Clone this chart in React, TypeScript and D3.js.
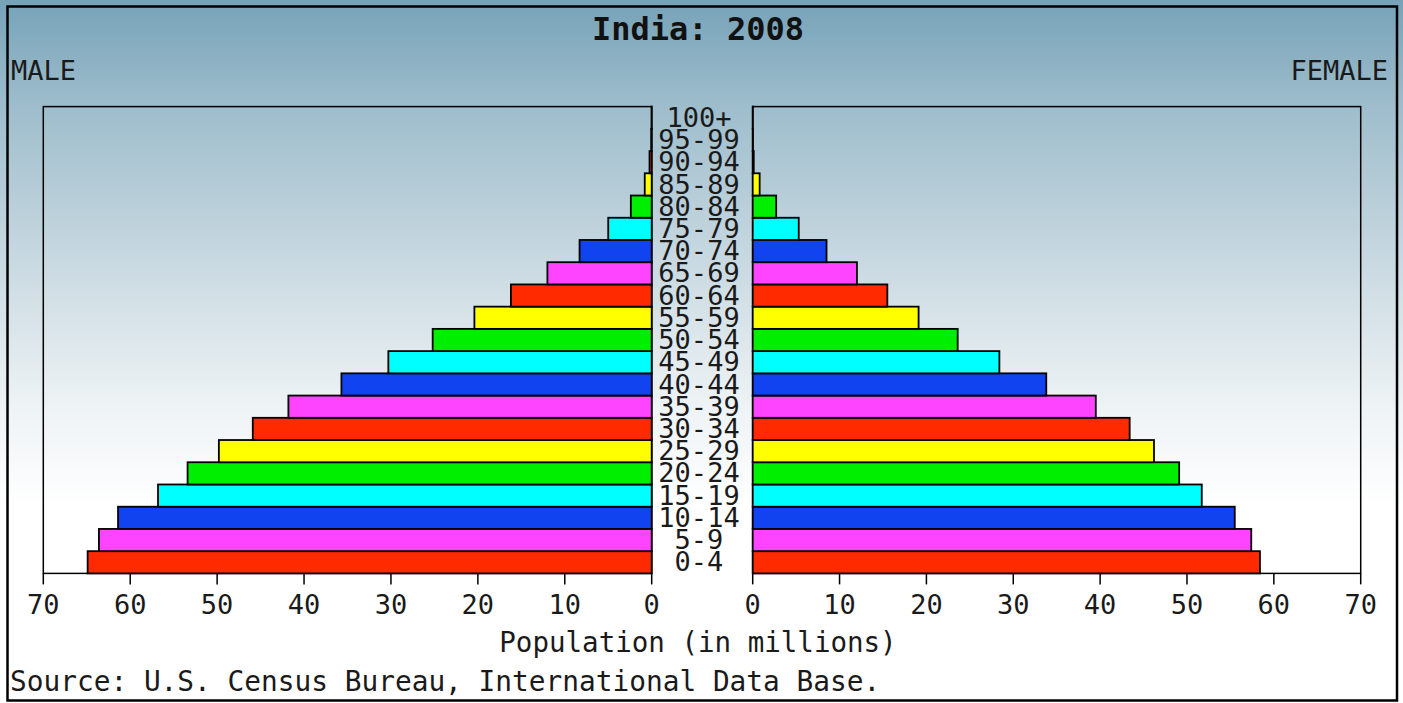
import React from "react";
import * as d3 from "d3";

const ageGroups = ["0-4","5-9","10-14","15-19","20-24","25-29","30-34","35-39","40-44","45-49","50-54","55-59","60-64","65-69","70-74","75-79","80-84","85-89","90-94","95-99","100+"];
const maleValues = [64.9,63.6,61.4,56.8,53.4,49.8,45.9,41.8,35.7,30.3,25.2,20.4,16.2,12.0,8.3,5.0,2.4,0.8,0.25,0.06,0.02];
const femaleValues = [58.4,57.4,55.5,51.7,49.1,46.2,43.4,39.5,33.8,28.4,23.6,19.1,15.5,12.0,8.5,5.3,2.7,0.8,0.12,0.03,0.01];
const barColors = ["#ff2a00","#ff44ff","#1144f0","#00ffff","#00ee00","#ffff00"];
const tickValues = [0,10,20,30,40,50,60,70];
const title = "India: 2008";
const leftLabel = "MALE";
const rightLabel = "FEMALE";
const xAxisTitle = "Population (in millions)";
const sourceText = "Source: U.S. Census Bureau, International Data Base.";

const W = 1403;
const H = 703;
const FONT = "'DejaVu Sans Mono', monospace";

export default function App() {
  const plotTop = 106.6;
  const plotBottom = 573.4;
  const xL = d3.scaleLinear().domain([0, 70]).range([651.7, 43.3]);
  const xR = d3.scaleLinear().domain([0, 70]).range([752.7, 1360.7]);
  const y = d3.scaleBand<string>().domain(ageGroups).range([plotBottom, plotTop]).padding(0);
  const bw = y.bandwidth();

  return (
    <svg width={W} height={H} style={{ position: "absolute", left: 0, top: 0 }}>
      <defs>
        <linearGradient id="bg" x1="0" y1="0" x2="0" y2="1">
          <stop offset="0" stopColor="#76a2b8" />
          <stop offset="0.15" stopColor="#9ebdcc" />
          <stop offset="0.38" stopColor="#cadae2" />
          <stop offset="0.58" stopColor="#eef3f5" />
          <stop offset="0.72" stopColor="#ffffff" />
          <stop offset="1" stopColor="#ffffff" />
        </linearGradient>
      </defs>
      <rect x={0} y={0} width={W} height={H} fill="url(#bg)" />
      <rect x={7.5} y={6.5} width={1389.5} height={694} fill="none" stroke="#000" strokeWidth={2.5} />

      <text x={698} y={40} textAnchor="middle" fontFamily={FONT} fontWeight="bold" fontSize={32} fill="#111">{title}</text>
      <text x={11} y={80} fontFamily={FONT} fontSize={27} fill="#1a1a1a">{leftLabel}</text>
      <text x={1388} y={80} textAnchor="end" fontFamily={FONT} fontSize={27} fill="#1a1a1a">{rightLabel}</text>

      {/* plot boxes */}
      <rect x={xL(70)} y={plotTop} width={xL(0) - xL(70)} height={plotBottom - plotTop} fill="none" stroke="#000" strokeWidth={1.5} />
      <rect x={xR(0)} y={plotTop} width={xR(70) - xR(0)} height={plotBottom - plotTop} fill="none" stroke="#000" strokeWidth={1.5} />

      {/* bars */}
      {ageGroups.map((a, i) => (
        <rect key={"m" + a} x={xL(maleValues[i])} y={y(a)} width={xL(0) - xL(maleValues[i])} height={bw}
          fill={barColors[i % barColors.length]} stroke="#000" strokeWidth={1.8} />
      ))}
      {ageGroups.map((a, i) => (
        <rect key={"f" + a} x={xR(0)} y={y(a)} width={xR(femaleValues[i]) - xR(0)} height={bw}
          fill={barColors[i % barColors.length]} stroke="#000" strokeWidth={1.8} />
      ))}

      {/* age labels */}
      {ageGroups.map((a) => (
        <text key={"l" + a} x={699} y={(y(a) as number) + bw - 2} textAnchor="middle" fontFamily={FONT} fontSize={27} fill="#1a1a1a">{a}</text>
      ))}

      {/* ticks */}
      {tickValues.map((t) => (
        <g key={"tl" + t}>
          <line x1={xL(t)} x2={xL(t)} y1={plotBottom} y2={plotBottom + 11} stroke="#000" strokeWidth={1.5} />
          <text x={xL(t)} y={614} textAnchor="middle" fontFamily={FONT} fontSize={27} fill="#1a1a1a">{t}</text>
        </g>
      ))}
      {tickValues.map((t) => (
        <g key={"tr" + t}>
          <line x1={xR(t)} x2={xR(t)} y1={plotBottom} y2={plotBottom + 11} stroke="#000" strokeWidth={1.5} />
          <text x={xR(t)} y={614} textAnchor="middle" fontFamily={FONT} fontSize={27} fill="#1a1a1a">{t}</text>
        </g>
      ))}

      <text x={698} y={652} textAnchor="middle" fontFamily={FONT} fontSize={27.5} fill="#1a1a1a">{xAxisTitle}</text>
      <text x={10} y={691} fontFamily={FONT} fontSize={27.8} fill="#1a1a1a">{sourceText}</text>
    </svg>
  );
}
